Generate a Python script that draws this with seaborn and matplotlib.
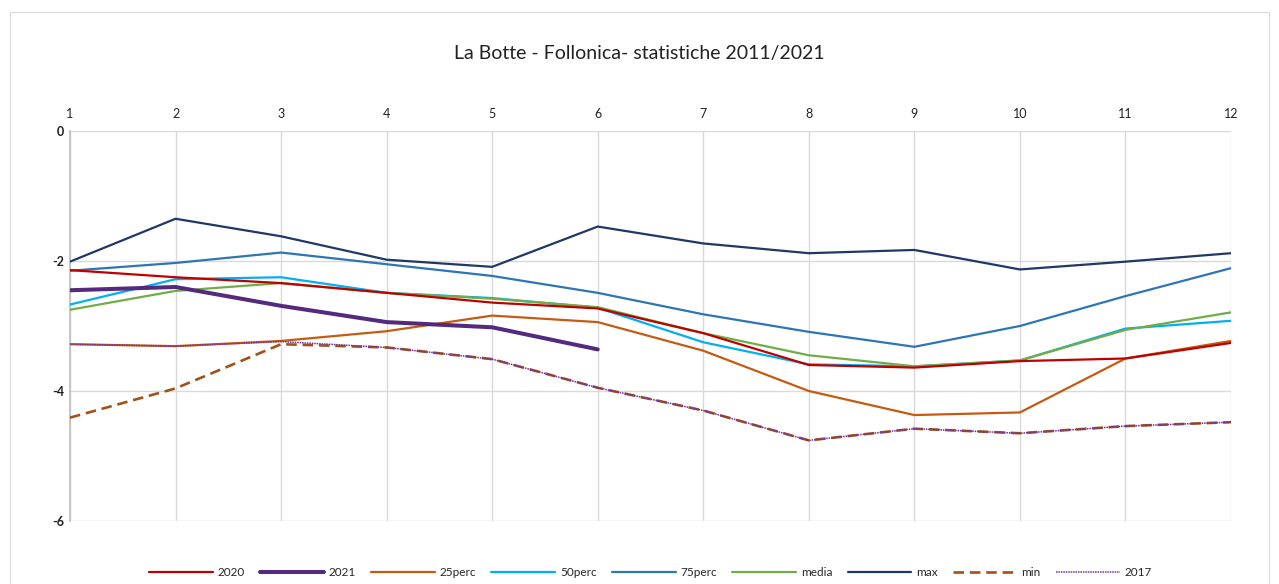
import numpy as np
import pandas as pd
import matplotlib
matplotlib.use("Agg")
import matplotlib.pyplot as plt
import seaborn as sns
from matplotlib.patches import Rectangle

months = list(range(1, 13))
y2020 = [-2.14, -2.25, -2.34, -2.49, -2.64, -2.73, -3.11, -3.60, -3.64, -3.54, -3.50, -3.26]
y2021 = [-2.45, -2.40, -2.69, -2.94, -3.02, -3.36, None, None, None, None, None, None]
p25 = [-3.28, -3.31, -3.23, -3.08, -2.84, -2.94, -3.38, -4.00, -4.37, -4.33, -3.50, -3.23]
p50 = [-2.67, -2.28, -2.25, -2.49, -2.57, -2.72, -3.25, -3.59, -3.62, -3.53, -3.04, -2.92]
p75 = [-2.15, -2.03, -1.87, -2.05, -2.23, -2.49, -2.82, -3.09, -3.32, -3.00, -2.54, -2.11]
media = [-2.75, -2.46, -2.34, -2.49, -2.58, -2.71, -3.11, -3.45, -3.62, -3.53, -3.06, -2.79]
vmax = [-2.01, -1.35, -1.62, -1.98, -2.09, -1.47, -1.73, -1.88, -1.83, -2.13, -2.01, -1.88]
vmin = [-4.41, -3.96, -3.28, -3.33, -3.51, -3.95, -4.30, -4.76, -4.58, -4.65, -4.54, -4.48]
y2017 = [-3.28, -3.31, -3.24, -3.33, -3.51, -3.95, -4.30, -4.76, -4.58, -4.65, -4.54, -4.48]

series = [
    ("2020", y2020, "#C00000", "-", 1.6, 8),
    ("2021", y2021, "#532A7E", "-", 2.9, 9),
    ("25perc", p25, "#C55A11", "-", 1.6, 4),
    ("50perc", p50, "#00B0F0", "-", 1.6, 5),
    ("75perc", p75, "#2E75B6", "-", 1.6, 3),
    ("media", media, "#70AD47", "-", 1.6, 6),
    ("max", vmax, "#203864", "-", 1.6, 3),
    ("min", vmin, "#A0521B", (0, (4, 2.2)), 1.9, 6),
    ("2017", y2017, "#7030A0", (0, (1, 0.6)), 1.1, 7),
]

sns.set_theme(style="white")
plt.rcParams['font.family'] = ['Lato', 'DejaVu Sans']

fig = plt.figure(figsize=(12.79, 5.84), dpi=100)
ax = fig.add_axes([70/1279, 1-521/584, (1231-70)/1279, (521-131)/584])

fig.patches.append(Rectangle((10/1279, -0.01), (1269-10)/1279, 1-12/584+0.01,
                             transform=fig.transFigure, fill=False,
                             edgecolor="#D9D9D9", linewidth=0.8))

for name, vals, col, ls, lw, z in series:
    df = pd.DataFrame({"x": months, "y": vals}).dropna()
    sns.lineplot(data=df, x="x", y="y", ax=ax, color=col, linestyle=ls,
                 linewidth=lw, label=name, zorder=z)

ax.set_xlim(1, 12)
ax.set_ylim(-6, 0)
ax.set_xticks(months)
ax.set_yticks([-6, -4, -2, 0])
ax.set_yticklabels(["-6", "-4", "-2", "0"], fontweight="bold", fontsize=9)
ax.xaxis.tick_top()
ax.set_xticklabels([str(m) for m in months], fontsize=9)
ax.tick_params(axis="x", length=0, pad=8, colors="#222222")
ax.tick_params(axis="y", length=0, pad=4, colors="#222222")
ax.grid(True, color="#D9D9D9", linewidth=1.0)
ax.set_axisbelow(True)
for s in ["top", "right", "bottom"]:
    ax.spines[s].set_visible(False)
ax.spines["left"].set_color("#BFBFBF")
ax.set_xlabel("")
ax.set_ylabel("")

fig.text(0.5, 1-53/584, "La Botte - Follonica- statistiche 2011/2021", ha="center",
         va="center", fontsize=14, color="#222222")

handles, labels = ax.get_legend_handles_labels()
ax.legend(handles, labels, loc="center", bbox_to_anchor=(0.5, -0.133),
          ncol=9, frameon=False, fontsize=8.5, handlelength=5.4, columnspacing=1.3,
          handletextpad=0.4)

fig.savefig("out.png", dpi=100)
